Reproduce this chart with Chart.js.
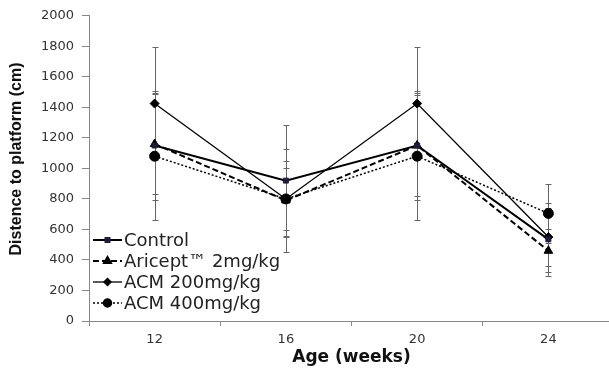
<!DOCTYPE html>
<html>
<head>
<meta charset="utf-8">
<script src="https://cdn.jsdelivr.net/npm/chart.js@4/dist/chart.umd.min.js"></script>
<style>
html,body{margin:0;padding:0;background:#fff;overflow:hidden;}
#wrap{width:609px;height:370px;overflow:hidden;}
canvas{display:block;}
</style>
</head>
<body>
<div id="wrap"><canvas id="c" width="620" height="370"></canvas></div>
<script>
const categories = ['12', '16', '20', '24'];
const seriesNames = ['Control', 'Aricept\u2122 2mg/kg', 'ACM 200mg/kg', 'ACM 400mg/kg'];
const control = [1150, 920, 1150, 535];
const aricept = [1160, 790, 1150, 460];
const acm200 = [1425, 800, 1425, 550];
const acm400 = [1080, 800, 1080, 705];
const controlErr = [355, 367, 355, 240];
const ariceptErr = [330, 337, 330, 140];
const acm200Err = [370, 246, 370, 190];
const acm400Err = [415, 205, 415, 195];
const yTicks = [0, 200, 400, 600, 800, 1000, 1200, 1400, 1600, 1800, 2000];
const xTitle = 'Age (weeks)';
const yTitle = 'Distence to platform (cm)';

const errors = [controlErr, ariceptErr, acm200Err, acm400Err];

const errorBarPlugin = {
  id: 'errorBars',
  beforeDatasetsDraw(chart) {
    const ctx = chart.ctx;
    const xs = chart.scales.x, ys = chart.scales.y;
    ctx.save();
    ctx.strokeStyle = '#666';
    ctx.lineWidth = 1;
    chart.data.datasets.forEach((ds, i) => {
      const err = errors[i];
      ds.data.forEach((v, j) => {
        const x = Math.round(xs.getPixelForValue(j)) + 0.5;
        const yT = Math.round(ys.getPixelForValue(v + err[j])) + 0.5;
        const yB = Math.round(ys.getPixelForValue(v - err[j])) + 0.5;
        ctx.beginPath();
        ctx.moveTo(x, yT); ctx.lineTo(x, yB);
        ctx.moveTo(x - 3, yT); ctx.lineTo(x + 3, yT);
        ctx.moveTo(x - 3, yB); ctx.lineTo(x + 3, yB);
        ctx.stroke();
      });
    });
    ctx.restore();
  }
};

const legendPlugin = {
  id: 'customLegend',
  afterDraw(chart) {
    const ctx = chart.ctx;
    ctx.save();
    // y-axis title
    ctx.fillStyle = '#111';
    ctx.font = 'bold 16px "Liberation Sans Narrow", "Arial Narrow", sans-serif';
    ctx.textAlign = 'center';
    ctx.textBaseline = 'middle';
    ctx.translate(17, 159);
    ctx.rotate(-Math.PI / 2);
    ctx.fillText(yTitle, 0, 0);
    ctx.setTransform(1, 0, 0, 1, 0, 0);
    // legend
    const x0 = 93, x1 = 122, tx = 124;
    const ys = [240, 261, 282, 303];
    chart.data.datasets.forEach((ds, i) => {
      const y = ys[i];
      ctx.strokeStyle = ds.borderColor;
      ctx.lineWidth = ds.borderWidth;
      ctx.setLineDash(ds.borderDash || []);
      ctx.beginPath();
      ctx.moveTo(x0, y); ctx.lineTo(x1, y);
      ctx.stroke();
      ctx.setLineDash([]);
      ctx.fillStyle = ds.pointBackgroundColor;
      ctx.strokeStyle = ds.pointBorderColor;
      Chart.helpers.drawPoint(ctx, {
        pointStyle: ds.pointStyle,
        radius: ds.pointRadius * 0.8,
        borderWidth: 1
      }, (x0 + x1) / 2, y);
      ctx.fillStyle = '#222';
      ctx.font = '18px "DejaVu Sans"';
      ctx.textBaseline = 'middle';
      ctx.textAlign = 'left';
      ctx.fillText(ds.label, tx, y + 1);
    });
    ctx.restore();
  }
};

function mk(label, data, opts) {
  return Object.assign({
    label: label,
    data: data,
    borderColor: '#000',
    backgroundColor: '#000',
    pointBackgroundColor: '#000',
    pointBorderColor: '#000',
    pointBorderWidth: 1,
    fill: false,
    tension: 0
  }, opts);
}

new Chart(document.getElementById('c'), {
  type: 'line',
  data: {
    labels: categories,
    datasets: [
      mk(seriesNames[0], control, {borderWidth: 2, pointStyle: 'rect', pointRadius: 3.5, pointBackgroundColor: '#1c1c3c', pointBorderColor: '#1c1c3c'}),
      mk(seriesNames[1], aricept, {borderWidth: 2, borderDash: [6, 3], pointStyle: 'triangle', pointRadius: 5}),
      mk(seriesNames[2], acm200, {borderWidth: 1.3, pointStyle: 'rectRot', pointRadius: 4.5}),
      mk(seriesNames[3], acm400, {borderWidth: 1.5, borderDash: [2, 2], pointStyle: 'circle', pointRadius: 5})
    ]
  },
  options: {
    responsive: false,
    animation: false,
    devicePixelRatio: 1,
    layout: {padding: {top: 15, right: 0, left: 0, bottom: 0}},
    plugins: {legend: {display: false}, tooltip: {enabled: false}},
    scales: {
      x: {
        type: 'category',
        offset: true,
        border: {color: '#888', width: 1},
        grid: {offset: true, drawOnChartArea: false, drawTicks: true, tickLength: 5, color: '#888'},
        ticks: {font: {family: 'DejaVu Sans', size: 13}, color: '#333', padding: 6, maxRotation: 0},
        title: {display: true, text: xTitle, font: {family: 'DejaVu Sans', size: 17, weight: 'bold'}, color: '#111', padding: {top: 0, bottom: 2}},
        afterFit(scale) { scale.height = 49; }
      },
      y: {
        min: 0, max: 2000,
        afterBuildTicks(scale) { scale.ticks = yTicks.map(v => ({value: v})); },
        border: {color: '#888', width: 1},
        grid: {drawOnChartArea: false, drawTicks: true, tickLength: 7, color: '#888'},
        ticks: {font: {family: 'DejaVu Sans', size: 13}, color: '#333', padding: 8, callback: (v) => String(v)},
        title: {display: false},
        afterFit(scale) { scale.width = 89; }
      }
    }
  },
  plugins: [errorBarPlugin, legendPlugin]
});
</script>
</body>
</html>
